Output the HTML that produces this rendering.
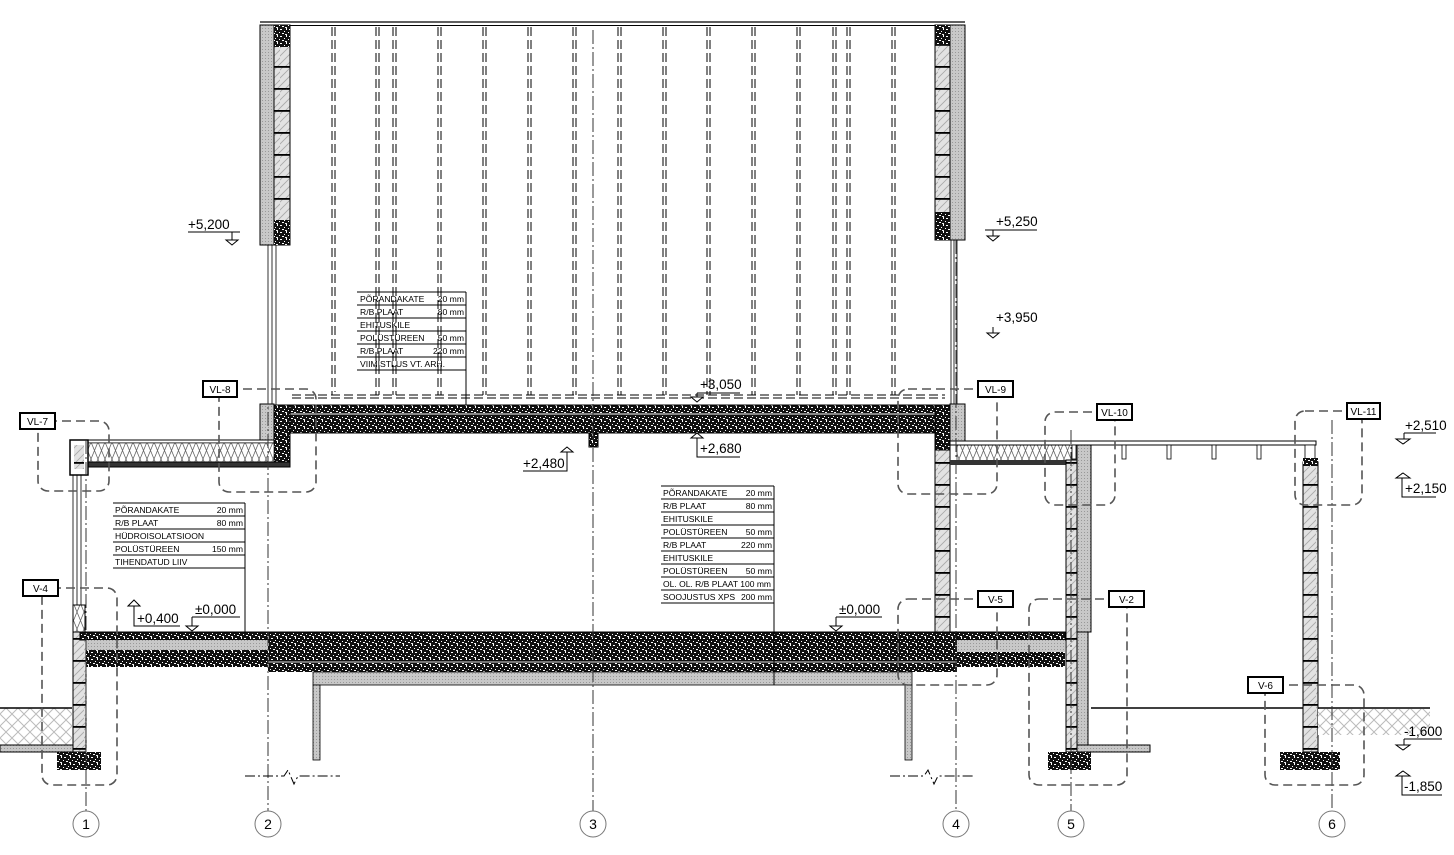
<!DOCTYPE html>
<html><head><meta charset="utf-8"><style>
html,body{margin:0;padding:0;background:#fff}
svg{display:block}
text{font-family:"Liberation Sans",sans-serif;fill:#000}
.t{font-size:8.6px}
.lv{font-size:13.5px}
.lb{font-size:10px}
.db{fill:none;stroke:#555;stroke-width:1.6;stroke-dasharray:9,5}
.ax{stroke:#333;stroke-width:1;stroke-dasharray:14,3,2,3;fill:none}
.dd{stroke:#000;stroke-width:1;stroke-dasharray:9,4}
</style></head><body>
<svg width="1454" height="855" viewBox="0 0 1454 855" xmlns="http://www.w3.org/2000/svg">
<defs>
<pattern id="conc" width="9" height="7" patternUnits="userSpaceOnUse">
<rect width="9" height="7" fill="#111"/>
<rect x="1" y="1" width="2" height="1" fill="#fff"/><rect x="5" y="3" width="1" height="1" fill="#fff"/>
<rect x="3" y="5" width="2" height="1" fill="#fff"/><rect x="7" y="0" width="1" height="2" fill="#fff"/>
<rect x="0" y="4" width="1" height="1" fill="#fff"/><rect x="6" y="6" width="2" height="1" fill="#eee"/>
</pattern>
<pattern id="grey" width="3" height="3" patternUnits="userSpaceOnUse">
<rect width="3" height="3" fill="#c8c8c8"/><rect x="1" y="1" width="1" height="1" fill="#999"/>
</pattern>
<pattern id="brick" width="14" height="22" patternUnits="userSpaceOnUse">
<rect width="14" height="22" fill="#e2e2e2"/>
<path d="M-2,6 L8,-4 M-2,14 L14,-2 M-2,22 L18,2 M4,24 L18,10 M10,24 L18,16" stroke="#a8a8a8" stroke-width="0.8"/>
<rect y="0" width="14" height="1.8" fill="#000"/>
</pattern>
<pattern id="ins" width="14" height="17" patternUnits="userSpaceOnUse">
<rect width="14" height="17" fill="#fff"/>
<path d="M0,0 L7,17 L14,0 M0,17 L7,0 L14,17" stroke="#666" stroke-width="0.8" fill="none"/>
</pattern>
<pattern id="earth" width="12" height="12" patternUnits="userSpaceOnUse">
<rect width="12" height="12" fill="#fff"/>
<path d="M0,6 L6,0 M6,12 L12,6 M0,6 L6,12 M6,0 L12,6" stroke="#bbb" stroke-width="1"/>
</pattern>
</defs>

<line x1="260" y1="22" x2="965" y2="22" stroke="#000" stroke-width="1.2"/>
<line x1="290" y1="25.5" x2="935" y2="25.5" stroke="#000" stroke-width="1"/>

<g class="dd">
<path d="M332,27V395 M335,27V392 M376,27V395 M379,27V395 M393,27V395 M396,27V395 M438,27V395 M441,27V395 M483,27V395 M486,27V395 M528,27V395 M531,27V395 M573,27V395 M576,27V395 M618,27V395 M621,27V395 M663,27V395 M666,27V395 M707,27V395 M710,27V395 M752,27V395 M755,27V395 M797,27V395 M800,27V395 M833,27V395 M836,27V395 M847,27V395 M850,27V395 M892,27V395 M895,27V395"/>
<path d="M292,395H945 M292,398H945"/>
</g>

<rect x="260" y="25" width="14" height="220" fill="url(#grey)" stroke="#000"/>
<rect x="274" y="25" width="16" height="220" fill="url(#brick)" stroke="#000"/>
<rect x="274" y="25" width="16" height="22" fill="url(#conc)"/>
<rect x="274" y="220" width="16" height="25" fill="url(#conc)"/>
<rect x="950" y="25" width="15" height="215" fill="url(#grey)" stroke="#000"/>
<rect x="935" y="25" width="15" height="215" fill="url(#brick)" stroke="#000"/>
<rect x="935" y="25" width="15" height="20" fill="url(#conc)"/>
<rect x="935" y="212" width="15" height="28" fill="url(#conc)"/>
<path d="M268,245V405 M272,245V405 M276,245V405 M951,240V405 M954,240V405 M957,240V405" stroke="#000" stroke-width="0.8"/>

<rect x="274" y="405" width="676" height="28" fill="url(#conc)" stroke="#000"/>
<rect x="274" y="413" width="676" height="2" fill="#888"/>
<rect x="274" y="405" width="16" height="60" fill="url(#conc)" stroke="#000"/>
<rect x="260" y="404" width="14" height="40" fill="url(#grey)" stroke="#000"/>
<rect x="589" y="433" width="9" height="14" fill="url(#conc)" stroke="#000"/>
<rect x="950" y="404" width="15" height="41" fill="url(#grey)" stroke="#000"/>
<rect x="935" y="405" width="15" height="45" fill="url(#conc)" stroke="#000"/>

<rect x="70" y="440" width="204" height="3" fill="#fff" stroke="#000"/>
<rect x="88" y="443" width="186" height="19" fill="url(#ins)" stroke="#000" stroke-width="0.6"/>
<rect x="82" y="462" width="208" height="5" fill="#333" stroke="#000"/>
<rect x="70" y="440" width="18" height="35" fill="#fff" stroke="#000" stroke-width="1.5"/>
<rect x="74" y="445" width="10" height="24" fill="url(#brick)"/>
<path d="M73,475V605 M77,475V605 M81,475V605" stroke="#000" stroke-width="0.8"/>
<rect x="73" y="605" width="12" height="27" fill="url(#ins)" stroke="#000"/>

<rect x="73" y="632" width="13" height="120" fill="url(#brick)" stroke="#000"/>
<rect x="57" y="752" width="44" height="18" fill="url(#conc)"/>
<rect x="0" y="708" width="72" height="37" fill="url(#earth)"/>
<line x1="0" y1="708" x2="72" y2="708" stroke="#000" stroke-width="1.5"/>
<rect x="0" y="745" width="73" height="7" fill="url(#grey)" stroke="#000"/>

<rect x="80" y="632" width="877" height="8" fill="url(#conc)" stroke="#000"/>
<rect x="86" y="640" width="182" height="10" fill="url(#grey)"/>
<rect x="86" y="650" width="182" height="17" fill="url(#conc)"/>
<rect x="268" y="640" width="689" height="32" fill="url(#conc)"/>
<rect x="268" y="661" width="689" height="2" fill="#777"/>
<rect x="313" y="672" width="599" height="13" fill="url(#grey)" stroke="#000" stroke-width="0.8"/>
<rect x="313" y="685" width="7" height="75" fill="url(#grey)" stroke="#000" stroke-width="0.8"/>
<rect x="905" y="685" width="7" height="75" fill="url(#grey)" stroke="#000" stroke-width="0.8"/>
<rect x="957" y="632" width="108" height="8" fill="url(#conc)" stroke="#000"/>
<rect x="957" y="640" width="108" height="12" fill="url(#grey)"/>
<rect x="957" y="652" width="108" height="15" fill="url(#conc)"/>

<rect x="935" y="450" width="15" height="182" fill="url(#brick)" stroke="#000"/>
<rect x="957" y="445" width="115" height="17" fill="url(#ins)" stroke="#000" stroke-width="0.6"/>
<rect x="950" y="460" width="118" height="5" fill="#333"/>
<rect x="950" y="441" width="366" height="4" fill="#fff" stroke="#000"/>
<g fill="#fff" stroke="#000" stroke-width="0.8">
<rect x="1122" y="445" width="4" height="14"/><rect x="1167" y="445" width="4" height="14"/>
<rect x="1212" y="445" width="4" height="14"/><rect x="1257" y="445" width="4" height="14"/>
<rect x="1072" y="445" width="4" height="14"/><rect x="1305" y="445" width="10" height="14"/>
</g>
<rect x="1066" y="460" width="11" height="292" fill="url(#brick)" stroke="#000"/>
<rect x="1077" y="445" width="14" height="187" fill="url(#grey)" stroke="#000"/>
<rect x="1077" y="632" width="11" height="113" fill="url(#grey)" stroke="#000"/>
<rect x="1077" y="745" width="73" height="7" fill="url(#grey)" stroke="#000"/>
<rect x="1048" y="752" width="43" height="18" fill="url(#conc)"/>
<line x1="1091" y1="708" x2="1430" y2="708" stroke="#000" stroke-width="1.5"/>
<rect x="1303" y="462" width="15" height="290" fill="url(#brick)" stroke="#000"/>
<rect x="1303" y="458" width="15" height="8" fill="url(#conc)"/>
<rect x="1280" y="752" width="60" height="18" fill="url(#conc)"/>
<rect x="1318" y="709" width="112" height="26" fill="url(#earth)"/>

<path class="ax" d="M86,440V811 M268,390V811 M593,30V811 M956,240V811 M1071,430V811 M1332,420V811"/>
<g fill="#fff" stroke="#777" stroke-width="1">
<circle cx="86" cy="824" r="13"/><circle cx="268" cy="824" r="13"/><circle cx="593" cy="824" r="13"/>
<circle cx="956" cy="824" r="13"/><circle cx="1071" cy="824" r="13"/><circle cx="1332" cy="824" r="13"/>
</g>
<g font-size="14" text-anchor="middle">
<text x="86" y="829">1</text><text x="268" y="829">2</text><text x="593" y="829">3</text>
<text x="956" y="829">4</text><text x="1071" y="829">5</text><text x="1332" y="829">6</text>
</g>
<path d="M245,776H284L288,770L294,784L298,776H340" stroke="#000" fill="none" stroke-dasharray="10,3,2,3"/>
<path d="M890,776H924L928,770L934,784L938,776H975" stroke="#000" fill="none" stroke-dasharray="10,3,2,3"/>

<g class="db">
<rect x="38" y="421" width="71" height="70" rx="10"/>
<rect x="219" y="389" width="97" height="103" rx="10"/>
<rect x="42" y="588" width="75" height="197" rx="10"/>
<rect x="898" y="389" width="99" height="105" rx="10"/>
<rect x="898" y="599" width="99" height="86" rx="10"/>
<rect x="1045" y="412" width="70" height="93" rx="10"/>
<rect x="1029" y="599" width="98" height="186" rx="10"/>
<rect x="1295" y="411" width="67" height="94" rx="10"/>
<rect x="1265" y="685" width="99" height="100" rx="10"/>
</g>
<g fill="#fff" stroke="#000" stroke-width="2">
<rect x="20" y="413" width="35" height="16"/><rect x="203" y="381" width="34" height="16"/>
<rect x="23" y="580" width="35" height="16"/><rect x="978" y="381" width="35" height="16"/>
<rect x="978" y="591" width="35" height="16"/><rect x="1097" y="404" width="35" height="16"/>
<rect x="1109" y="591" width="35" height="16"/><rect x="1347" y="403" width="33" height="16"/>
<rect x="1248" y="677" width="35" height="16"/>
</g>
<g class="lb" text-anchor="middle">
<text x="37.5" y="425">VL-7</text><text x="220" y="393">VL-8</text><text x="40.5" y="592">V-4</text>
<text x="995.5" y="393">VL-9</text><text x="995.5" y="603">V-5</text><text x="1114.5" y="416">VL-10</text>
<text x="1126.5" y="603">V-2</text><text x="1363.5" y="415">VL-11</text><text x="1265.5" y="689">V-6</text>
</g>

<g stroke="#000" stroke-width="1" fill="#fff">
<path d="M188,232H240 M232,232V244"/><path d="M226,240H238L232,245Z"/>
<path d="M985,230H1037 M993,230V240"/><path d="M987,236H999L993,241Z"/>
<path d="M993,327V338"/><path d="M987,333H999L993,338Z"/>
<path d="M697,393H740 M697,393V402"/><path d="M691,397H703L697,402Z"/>
<path d="M697,433V457H740"/><path d="M691,438H703L697,433Z"/>
<path d="M523,471H567V448"/><path d="M561,452H573L567,447Z"/>
<path d="M134,600V626H180"/><path d="M128,606H140L134,600Z"/>
<path d="M192,617H240 M192,617V630"/><path d="M186,626H198L192,631Z"/>
<path d="M836,617H882 M836,617V630"/><path d="M830,626H842L836,631Z"/>
<path d="M1404,433H1436 M1404,433V444"/><path d="M1396,439H1410L1403,444Z"/>
<path d="M1402,473V497H1436"/><path d="M1396,478H1410L1403,473Z"/>
<path d="M1404,739H1442 M1404,739V750"/><path d="M1396,745H1410L1403,750Z"/>
<path d="M1402,771V795H1442"/><path d="M1396,776H1410L1403,771Z"/>
</g>
<g class="lv">
<text x="188" y="229">+5,200</text><text x="996" y="226">+5,250</text><text x="996" y="322">+3,950</text>
<text x="700" y="389">+3,050</text><text x="700" y="453">+2,680</text><text x="523" y="468">+2,480</text>
<text x="137" y="623">+0,400</text><text x="195" y="614">±0,000</text><text x="839" y="614">±0,000</text>
<text x="1405" y="430">+2,510</text><text x="1405" y="493">+2,150</text>
<text x="1404" y="736">-1,600</text><text x="1404" y="791">-1,850</text>
</g>

<g stroke="#000" stroke-width="1" fill="none">
<path d="M357,292H466 M357,305H466 M357,318H466 M357,331H466 M357,344H466 M357,357H466 M357,370H466 M466,292V405"/>
<path d="M113,503H245 M113,516H245 M113,529H245 M113,542H245 M113,555H245 M113,568H245 M245,503V632"/>
<path d="M661,486H774 M661,499H774 M661,512H774 M661,525H774 M661,538H774 M661,551H774 M661,564H774 M661,577H774 M661,590H774 M661,603H774 M774,486V685"/>
</g>
<g class="t">
<text x="360" y="302">PÕRANDAKATE</text><text x="464" y="302" text-anchor="end">20 mm</text>
<text x="360" y="315">R/B PLAAT</text><text x="464" y="315" text-anchor="end">80 mm</text>
<text x="360" y="328">EHITUSKILE</text>
<text x="360" y="341">POLÜSTÜREEN</text><text x="464" y="341" text-anchor="end">50 mm</text>
<text x="360" y="354">R/B PLAAT</text><text x="464" y="354" text-anchor="end">220 mm</text>
<text x="360" y="367">VIIMISTLUS VT. ARH.</text>

<text x="115" y="513">PÕRANDAKATE</text><text x="243" y="513" text-anchor="end">20 mm</text>
<text x="115" y="526">R/B PLAAT</text><text x="243" y="526" text-anchor="end">80 mm</text>
<text x="115" y="539">HÜDROISOLATSIOON</text>
<text x="115" y="552">POLÜSTÜREEN</text><text x="243" y="552" text-anchor="end">150 mm</text>
<text x="115" y="565">TIHENDATUD LIIV</text>

<text x="663" y="496">PÕRANDAKATE</text><text x="772" y="496" text-anchor="end">20 mm</text>
<text x="663" y="509">R/B PLAAT</text><text x="772" y="509" text-anchor="end">80 mm</text>
<text x="663" y="522">EHITUSKILE</text>
<text x="663" y="535">POLÜSTÜREEN</text><text x="772" y="535" text-anchor="end">50 mm</text>
<text x="663" y="548">R/B PLAAT</text><text x="772" y="548" text-anchor="end">220 mm</text>
<text x="663" y="561">EHITUSKILE</text>
<text x="663" y="574">POLÜSTÜREEN</text><text x="772" y="574" text-anchor="end">50 mm</text>
<text x="663" y="587" textLength="108" lengthAdjust="spacingAndGlyphs">OL. OL. R/B PLAAT 100 mm</text>
<text x="663" y="600">SOOJUSTUS XPS</text><text x="772" y="600" text-anchor="end">200 mm</text>
</g>
</svg>
</body></html>
